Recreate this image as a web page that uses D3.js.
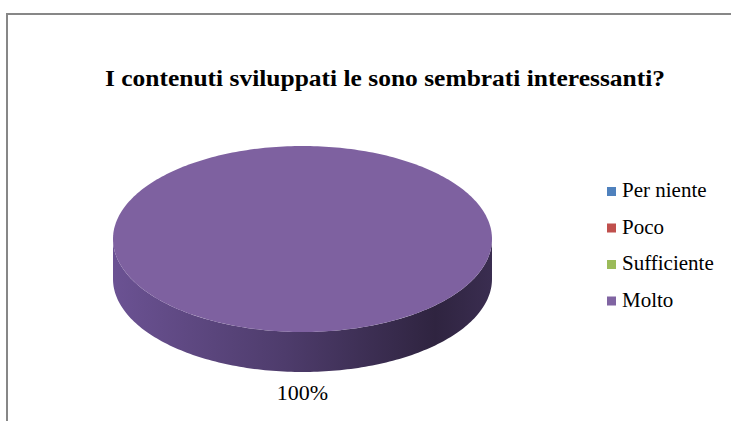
<!DOCTYPE html>
<html><head><meta charset="utf-8">
<script src="https://cdn.jsdelivr.net/npm/d3@7/dist/d3.min.js"></script>
<style>html,body{margin:0;padding:0;background:#fff;}svg{display:block;}</style>
</head><body>
<svg id="chart" width="731" height="421"></svg>
<script>
const title = "I contenuti sviluppati le sono sembrati interessanti?";
const categories = ["Per niente", "Poco", "Sufficiente", "Molto"];
const values = [0, 0, 0, 100];
const colors = ["#4F81BD", "#C0504D", "#9BBB59", "#8064A2"];

const svg = d3.select("#chart").attr("font-family", "Liberation Serif");
const W = 731, H = 421;
svg.append("rect").attr("x", 0).attr("y", 0).attr("width", W).attr("height", H).attr("fill", "#fff");
// chart frame (extends beyond the view)
svg.append("rect").attr("x", 7).attr("y", 14).attr("width", 800).attr("height", 500)
  .attr("fill", "none").attr("stroke", "#878787").attr("stroke-width", 2);

svg.append("text").attr("x", 385).attr("y", 86).attr("text-anchor", "middle")
  .attr("font-family", "Liberation Serif")
  .attr("font-weight", "bold").attr("font-size", 23).attr("fill", "#000")
  .attr("textLength", 560).attr("lengthAdjust", "spacingAndGlyphs")
  .text(title);

// 3D pie
const cx = 302.5, cy = 239, rx = 189.5, ry = 93, depth = 40;
const total = d3.sum(values);
const pct = d3.scaleLinear().domain([0, total]).range([0, 100]);
const pie = d3.pie().sort(null).startAngle(0).endAngle(2 * Math.PI)(values);
const defs = svg.append("defs");

function pt(a, dy) { // angle clockwise from top
  return [cx + rx * Math.sin(a), cy - ry * Math.cos(a) + (dy || 0)];
}
function arcPts(a0, a1, dy) {
  const n = Math.max(2, Math.ceil((a1 - a0) / 0.02));
  return d3.range(n + 1).map(i => pt(a0 + (a1 - a0) * i / n, dy));
}
const line = d3.line();

pie.forEach((d, i) => {
  if (d.value <= 0) return;
  const s = Math.max(d.startAngle, Math.PI / 2), e = Math.min(d.endAngle, 3 * Math.PI / 2);
  if (e > s) {
    const gid = "side" + i;
    const g = defs.append("linearGradient").attr("id", gid)
      .attr("gradientUnits", "userSpaceOnUse")
      .attr("x1", cx - rx).attr("x2", cx + rx).attr("y1", 0).attr("y2", 0);
    g.append("stop").attr("offset", "0%").attr("stop-color", "#6B5293");
    g.append("stop").attr("offset", "45%").attr("stop-color", "#4E3C6C");
    g.append("stop").attr("offset", "85%").attr("stop-color", "#2F2440");
    g.append("stop").attr("offset", "100%").attr("stop-color", "#3A2D50");
    const top = arcPts(s, e, 0), bot = arcPts(s, e, depth).reverse();
    svg.append("path").attr("d", line(top.concat(bot)) + "Z").attr("fill", `url(#${gid})`);
  }
  const full = d.endAngle - d.startAngle >= 2 * Math.PI - 1e-6;
  let pts = arcPts(d.startAngle, d.endAngle, 0);
  if (!full) pts = [[cx, cy]].concat(pts);
  svg.append("path").attr("d", line(pts) + "Z").attr("fill", "#7E61A0");
  const mid = (d.startAngle + d.endAngle) / 2;
  const lp = full ? [cx, cy + ry + depth + 28] : pt(mid, 0);
  svg.append("text").attr("x", lp[0]).attr("y", lp[1]).attr("text-anchor", "middle")
    .attr("font-family", "Liberation Serif")
    .attr("font-size", 22).attr("fill", "#000")
    .text(Math.round(pct(d.value)) + "%");
});

// legend
const leg = svg.append("g");
categories.forEach((cat, i) => {
  const y = 187 + i * 36.5;
  leg.append("rect").attr("x", 607).attr("y", y).attr("width", 9).attr("height", 9).attr("fill", colors[i]);
  leg.append("text").attr("x", 622).attr("y", y + 10)
    .attr("font-family", "Liberation Serif")
    .attr("font-size", 21).attr("fill", "#000").text(cat);
});
</script>
</body></html>
